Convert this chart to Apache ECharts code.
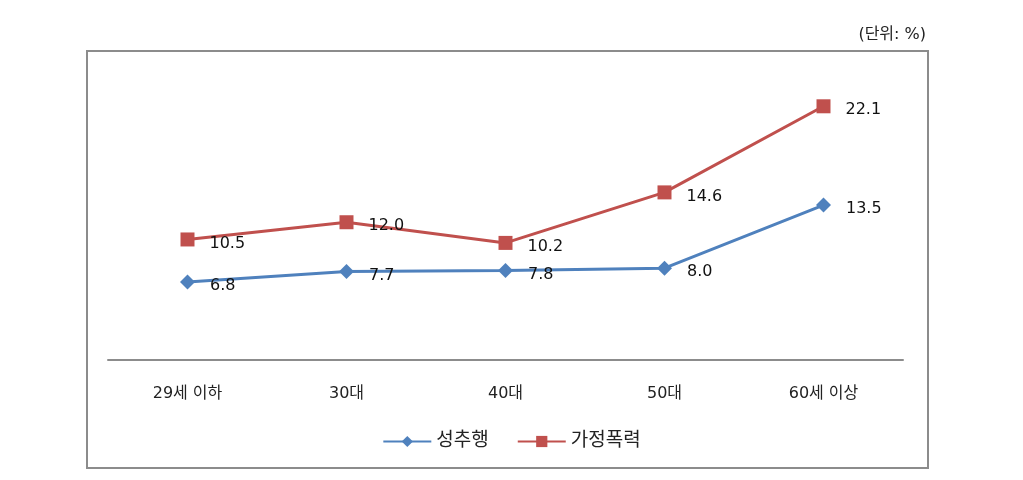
<!DOCTYPE html>
<html>
<head>
<meta charset="utf-8">
<script src="https://cdn.jsdelivr.net/npm/echarts@6/dist/echarts.min.js"></script>
<style>
  html, body { margin: 0; padding: 0; background: #fff; }
  #chart { width: 1023px; height: 480px; }
</style>
</head>
<body>
<div id="chart"></div>
<script>
// 연령대별 비율 (단위: %)
var categories = ['29세 이하', '30대', '40대', '50대', '60세 이상'];
var harassment = [6.8, 7.7, 7.8, 8.0, 13.5];
var domesticViolence = [10.5, 12.0, 10.2, 14.6, 22.1];

var font = '"DejaVu Sans", "Noto Sans CJK KR", sans-serif';

var chartDom = document.getElementById('chart');
var myChart = echarts.init(chartDom);

var labelStyle = {
    show: true,
    position: 'right',
    offset: [10, 4],
    color: '#111',
    fontSize: 16,
    fontFamily: font,
    formatter: function (p) { return p.value.toFixed(1); }
};

option = {
    animation: false,
    backgroundColor: '#fff',
    graphic: [
        {
            type: 'rect',
            shape: { x: 87, y: 51, width: 841, height: 417 },
            style: { fill: 'none', stroke: '#8c8c8c', lineWidth: 2 },
            z: -1
        },
        {
            type: 'text',
            right: 97,
            top: 27,
            style: { text: '(단위: %)', fill: '#222', font: '16px ' + font }
        }
    ],
    legend: {
        bottom: 24,
        left: 'center',
        itemWidth: 48,
        itemHeight: 14,
        itemGap: 28,
        textStyle: { color: '#222', fontSize: 19, fontFamily: font },
        data: ['성추행', '가정폭력']
    },
    grid: {
        left: 108,
        right: 120,
        top: 73,
        bottom: 120
    },
    xAxis: {
        type: 'category',
        data: categories,
        boundaryGap: true,
        axisLine: { lineStyle: { color: '#8c8c8c', width: 2 } },
        axisTick: { show: false },
        axisLabel: { color: '#222', fontSize: 16, fontFamily: font, margin: 26 }
    },
    yAxis: {
        type: 'value',
        min: 0,
        max: 25,
        show: false,
        splitLine: { show: false }
    },
    series: [
        {
            name: '성추행',
            type: 'line',
            data: harassment,
            symbol: 'diamond',
            symbolSize: 15,
            color: '#4f81bd',
            lineStyle: { width: 3, color: '#4f81bd' },
            itemStyle: { color: '#4f81bd' },
            label: labelStyle
        },
        {
            name: '가정폭력',
            type: 'line',
            data: domesticViolence,
            symbol: 'rect',
            symbolSize: 14,
            color: '#c0504d',
            lineStyle: { width: 3, color: '#c0504d' },
            itemStyle: { color: '#c0504d' },
            label: labelStyle
        }
    ]
};

if (option && typeof option === "object") {
    myChart.setOption(option, true);
}
</script>
</body>
</html>
